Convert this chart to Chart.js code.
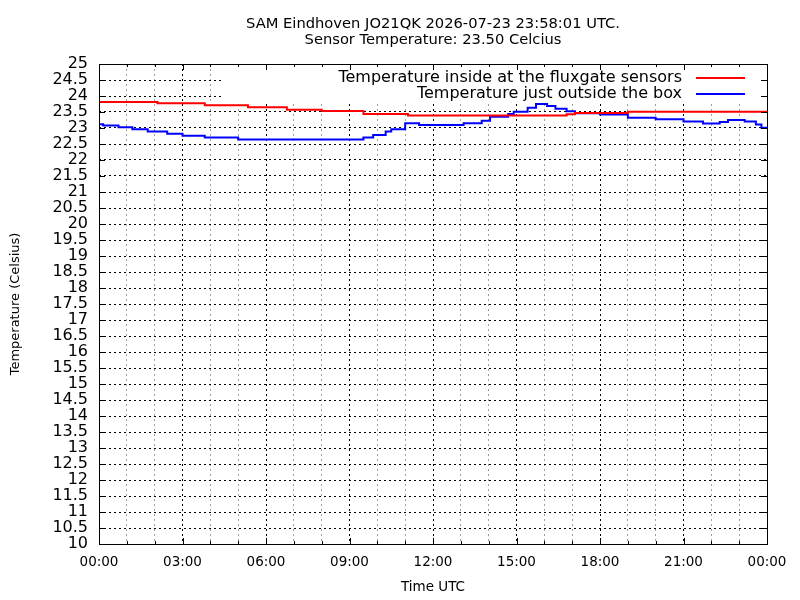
<!DOCTYPE html>
<html>
<head>
<meta charset="utf-8">
<script src="https://cdn.jsdelivr.net/npm/chart.js@4.4.1/dist/chart.umd.min.js"></script>
<style>
  html, body { margin: 0; padding: 0; background: #fff; }
  canvas { display: block; }
</style>
</head>
<body>
<canvas id="chart" width="800" height="600"></canvas>
<script>
// ── Data (hours UTC, degrees Celsius) ─────────────────────────────────────────
const TITLE_LINES = ['SAM Eindhoven JO21QK 2026-07-23 23:58:01 UTC.', 'Sensor Temperature: 23.50 Celcius']
const SERIES_LABELS = ['Temperature inside at the fluxgate sensors', 'Temperature just outside the box']

const insideTimes = [0, 2.1, 3.8, 5.35, 6.75, 8.0, 9.5, 11.1, 16.8, 17.1, 19.0, 24]
const insideValues = [23.81, 23.77, 23.71, 23.65, 23.57, 23.53, 23.44, 23.39, 23.43, 23.47, 23.51, 23.51]

const outsideTimes = [0, 0.15, 0.7, 1.2, 1.75, 2.45, 3.0, 3.8, 5.0, 9.5, 9.85, 10.3, 10.5, 11.0,
  11.5, 13.1, 13.75, 14.05, 14.7, 14.9, 15.4, 15.7, 16.1, 16.4, 16.8, 17.1, 18.0, 19.0, 20.0,
  21.0, 21.7, 22.3, 22.6, 23.2, 23.6, 23.8, 24]
const outsideValues = [23.12, 23.08, 23.02, 22.96, 22.89, 22.82, 22.76, 22.70, 22.64, 22.70, 22.78,
  22.89, 22.96, 23.15, 23.09, 23.15, 23.23, 23.35, 23.44, 23.51, 23.63, 23.75, 23.69, 23.60, 23.52,
  23.46, 23.42, 23.32, 23.27, 23.20, 23.14, 23.19, 23.25, 23.20, 23.11, 23.01, 23.01]

const COLORS = ['#ff0000', '#0000ff']
const FONT = "'DejaVu Sans', sans-serif"

function toPoints(times, values) {
  return times.map((t, i) => ({ x: t, y: values[i] }))
}

function hourLabel(v) {
  const h = Math.round(v) % 24
  return (h < 10 ? '0' : '') + h + ':00'
}

// ── Plugins: gnuplot-style frame, inward ticks and opaque key ──────────────────
const keyPlugin = {
  id: 'gnuKey',
  beforeDatasetsDraw(chart) {
    const { ctx, chartArea: a } = chart
    ctx.save()
    ctx.fillStyle = '#fff'
    ctx.fillRect(a.left + 123, a.top, a.right - a.left - 123, 38)
    ctx.restore()
  },
  afterDatasetsDraw(chart) {
    const { ctx, chartArea: a, scales } = chart
    ctx.save()
    // frame
    ctx.strokeStyle = '#000'
    ctx.lineWidth = 1
    ctx.strokeRect(Math.round(a.left) + 0.5, Math.round(a.top) + 0.5,
      Math.round(a.right - a.left), Math.round(a.bottom - a.top))
    // inward tick marks
    ctx.beginPath()
    scales.y.ticks.forEach(t => {
      const y = Math.round(scales.y.getPixelForValue(t.value)) + 0.5
      ctx.moveTo(a.left, y); ctx.lineTo(a.left + 6, y)
      ctx.moveTo(a.right, y); ctx.lineTo(a.right - 6, y)
    })
    scales.x.ticks.forEach(t => {
      const x = Math.round(scales.x.getPixelForValue(t.value)) + 0.5
      const len = t.value % 3 === 0 ? 6 : 3
      ctx.moveTo(x, a.bottom); ctx.lineTo(x, a.bottom - len)
      ctx.moveTo(x, a.top); ctx.lineTo(x, a.top + len)
    })
    ctx.stroke()
    // key entries
    ctx.font = '16px ' + FONT
    ctx.textAlign = 'right'
    ctx.textBaseline = 'middle'
    SERIES_LABELS.forEach((label, i) => {
      const y = a.top + 14 + i * 16
      ctx.fillStyle = '#000'
      ctx.fillText(label, a.right - 85, y)
      ctx.strokeStyle = COLORS[i]
      ctx.lineWidth = 2
      ctx.beginPath()
      ctx.moveTo(a.right - 71, y)
      ctx.lineTo(a.right - 22, y)
      ctx.stroke()
    })
    ctx.restore()
  }
}

const config = {
  type: 'line',
  data: {
    datasets: [
      { label: SERIES_LABELS[0], data: toPoints(insideTimes, insideValues), borderColor: COLORS[0] },
      { label: SERIES_LABELS[1], data: toPoints(outsideTimes, outsideValues), borderColor: COLORS[1] }
    ].map(d => ({ ...d, borderWidth: 2, pointRadius: 0, stepped: 'before', fill: false }))
  },
  options: {
    responsive: false,
    animation: false,
    devicePixelRatio: 1,
    layout: { padding: { left: 0, right: 33, top: 0, bottom: 0 } },
    plugins: {
      legend: { display: false },
      tooltip: { enabled: false },
      title: {
        display: true,
        fullSize: false,
        text: TITLE_LINES,
        color: '#000',
        font: { family: FONT, size: 14.7, weight: 'normal', lineHeight: 16 / 14.7 },
        padding: { top: 16, bottom: 16 }
      }
    },
    scales: {
      x: {
        type: 'linear',
        min: 0,
        max: 24,
        afterFit: s => { s.height = 56 },
        ticks: {
          stepSize: 1,
          autoSkip: false,
          maxRotation: 0,
          padding: 10,
          color: '#000',
          font: { family: FONT, size: 13.5 },
          callback: v => (v % 3 === 0 ? hourLabel(v) : '')
        },
        grid: {
          drawTicks: false,
          color: c => (c.tick && c.tick.value % 3 === 0 ? '#000' : '#a0a0a0'),
          lineWidth: 1
        },
        border: { display: false, dash: [2, 3] },
        title: {
          display: true,
          text: 'Time UTC',
          color: '#000',
          font: { family: FONT, size: 13.5 },
          padding: { top: 0, bottom: 4 }
        }
      },
      y: {
        min: 10,
        max: 25,
        afterFit: s => { s.width = 99 },
        ticks: {
          stepSize: 0.5,
          autoSkip: false,
          padding: 11,
          color: '#000',
          font: { family: FONT, size: 16 },
          callback: v => String(v)
        },
        grid: { drawTicks: false, color: '#000', lineWidth: 1 },
        border: { display: false, dash: [2, 3] },
        title: {
          display: true,
          text: 'Temperature (Celsius)',
          color: '#000',
          font: { family: FONT, size: 13 },
          padding: { top: 8, bottom: 0 }
        }
      }
    }
  },
  plugins: [keyPlugin]
}

new Chart(document.getElementById('chart').getContext('2d'), config)
</script>
</body>
</html>
